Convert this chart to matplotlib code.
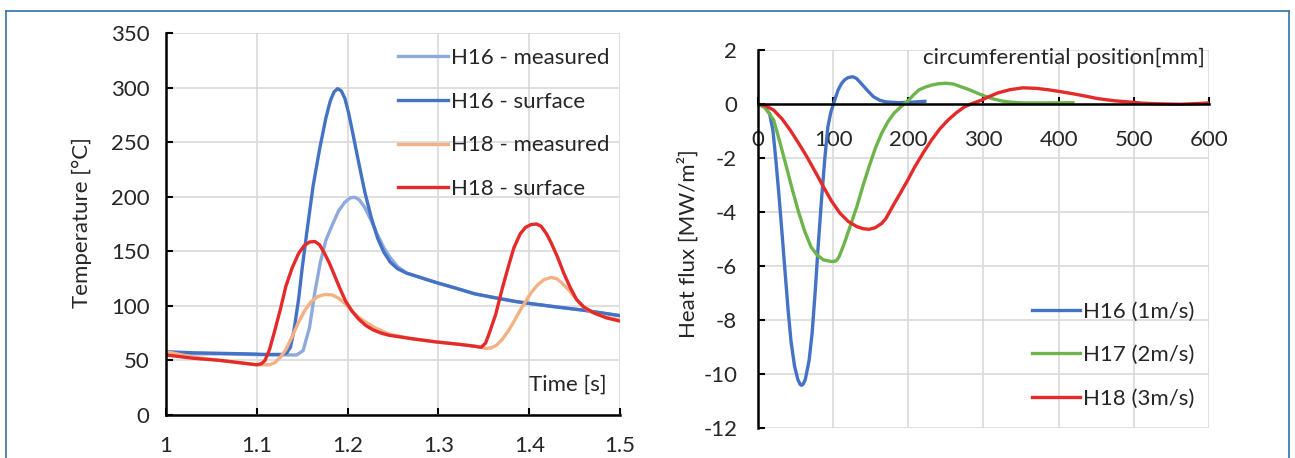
import matplotlib
matplotlib.use("Agg")
import matplotlib.pyplot as plt
from matplotlib.lines import Line2D
from matplotlib.ticker import FuncFormatter

plt.rcParams['font.family'] = ['Lato', 'DejaVu Sans']
plt.rcParams['axes.unicode_minus'] = False

# ---------------------------------------------------------------- left: temperature vs time
t_h16_surf = [1.0, 1.03, 1.06, 1.09, 1.11, 1.128, 1.133, 1.137, 1.141, 1.146, 1.15, 1.155, 1.162,
              1.169, 1.176, 1.181, 1.185, 1.189, 1.193, 1.197, 1.201, 1.205, 1.212, 1.219, 1.226,
              1.233, 1.24, 1.247, 1.255, 1.265, 1.28, 1.299, 1.32, 1.34, 1.365, 1.385, 1.402,
              1.43, 1.46, 1.5]
T_h16_surf = [58, 57, 56.5, 56, 55.5, 55.5, 57, 62, 78, 106, 135, 167, 210,
              243, 272, 288, 296, 299, 297, 290, 277, 261, 232, 204, 181,
              162, 149, 140, 134, 130, 126, 121, 116, 111, 107, 104, 102,
              99, 96, 91]

t_h16_meas = [1.0, 1.03, 1.06, 1.09, 1.12, 1.144, 1.151, 1.158, 1.164, 1.17, 1.176, 1.183, 1.19,
              1.197, 1.203, 1.208, 1.213, 1.219, 1.226, 1.233, 1.24, 1.247, 1.255, 1.265, 1.28,
              1.299, 1.32, 1.34, 1.365, 1.385, 1.402, 1.43, 1.46, 1.5]
T_h16_meas = [57, 56, 56, 55.5, 55, 55, 59, 80, 113, 140, 160, 174, 187,
              195, 199, 199.5, 197, 190, 178, 165, 153, 144, 136, 130, 126,
              121, 116, 111, 107, 104, 102, 99, 96, 91]

t_h18_surf = [1.0, 1.03, 1.06, 1.09, 1.1, 1.105, 1.109, 1.114, 1.119, 1.126, 1.132, 1.139, 1.146,
              1.152, 1.158, 1.164, 1.169, 1.174, 1.18, 1.186, 1.192, 1.198, 1.205, 1.212, 1.22,
              1.228, 1.237, 1.246, 1.27, 1.297, 1.32, 1.34, 1.347, 1.352, 1.356, 1.363, 1.37,
              1.377, 1.383, 1.39, 1.396, 1.402, 1.408, 1.413, 1.419, 1.424, 1.431, 1.438, 1.445,
              1.452, 1.46, 1.47, 1.485, 1.5]
T_h18_surf = [55, 52, 50, 47, 46, 47, 50, 60, 75, 97, 118, 135, 148,
              155, 158.5, 159, 156, 149, 139, 127, 115, 104, 95, 88, 82,
              78, 75, 73, 70, 67, 65, 63, 62, 66, 75, 92, 115,
              136, 153, 166, 172, 174.5, 175, 173, 166, 158, 145, 130, 117,
              106, 99, 94, 89, 86]

t_h18_meas = [1.0, 1.03, 1.06, 1.09, 1.1, 1.114, 1.12, 1.126, 1.132, 1.139, 1.146, 1.153, 1.16,
              1.167, 1.175, 1.183, 1.19, 1.196, 1.203, 1.21, 1.22, 1.23, 1.246, 1.27, 1.297,
              1.32, 1.34, 1.347, 1.352, 1.358, 1.364, 1.37, 1.377, 1.384, 1.39, 1.396, 1.402,
              1.409, 1.416, 1.424, 1.43, 1.436, 1.443, 1.45, 1.457, 1.465, 1.475, 1.488, 1.5]
T_h18_meas = [58, 53, 50, 47, 46, 46, 48, 53, 60, 72, 85, 96, 104,
              108.5, 110.5, 110, 107, 103, 97, 91, 85, 80, 74, 70, 67,
              65, 63, 62, 61, 61.5, 64, 69, 77, 87, 96, 104, 112,
              119, 124, 126, 125, 121, 115, 108, 101, 96, 92, 89, 87]

# ---------------------------------------------------------------- right: heat flux vs position
x_h16 = [0, 8, 15.5, 20, 23.8, 28, 32, 36, 40, 44, 48.6, 53, 56, 58, 60, 63, 68, 72, 76, 80,
         84.5, 89, 93, 97, 101, 106.6, 111, 115, 120, 126, 131, 137, 145, 153.6, 162, 170,
         187, 205, 222]
q_h16 = [0, -0.08, -0.36, -1.0, -2.07, -3.4, -4.78, -6.2, -7.6, -8.8, -9.7, -10.2, -10.38,
         -10.42, -10.38, -10.2, -9.5, -8.5, -7.0, -5.3, -3.55, -2.0, -0.84, -0.3, 0.05, 0.52,
         0.75, 0.89, 0.98, 1.01, 0.95, 0.77, 0.52, 0.27, 0.14, 0.08, 0.05, 0.07, 0.1]

x_h17 = [0, 10, 21, 29, 37.6, 46, 54, 62, 70.7, 79, 87, 95, 98, 102, 105, 108, 115, 123, 131.5,
         140, 148, 156, 164.6, 173, 181, 191, 200.6, 207, 214, 222, 231, 240, 250, 260, 270,
         281, 292, 303, 314, 325, 336, 352, 380, 419]
q_h17 = [0, -0.15, -0.6, -1.4, -2.3, -3.2, -4.0, -4.7, -5.3, -5.6, -5.77, -5.82, -5.83, -5.83,
         -5.78, -5.65, -5.15, -4.5, -3.8, -3.0, -2.3, -1.65, -1.08, -0.65, -0.34, -0.08, 0.15,
         0.34, 0.52, 0.62, 0.7, 0.75, 0.77, 0.74, 0.64, 0.53, 0.4, 0.28, 0.18, 0.11, 0.07,
         0.04, 0.04, 0.05]

x_h18 = [0, 10, 21, 32, 43, 54, 65, 76, 87, 98, 109, 120, 131.5, 140, 148, 156, 164.6, 170, 175,
         180, 186.7, 198, 208.8, 220, 231, 242, 253, 264, 275, 286, 297, 308, 319, 335, 352.5,
         370, 385.6, 402, 419, 436, 452, 474, 496, 512, 529, 545, 562, 580, 600]
q_h18 = [0, -0.06, -0.23, -0.55, -0.97, -1.45, -1.95, -2.5, -3.06, -3.6, -4.04, -4.35, -4.54,
         -4.62, -4.64, -4.58, -4.42, -4.25, -4.0, -3.75, -3.43, -2.88, -2.32, -1.8, -1.33,
         -0.92, -0.59, -0.32, -0.1, 0.03, 0.14, 0.28, 0.41, 0.53, 0.6, 0.58, 0.53, 0.46, 0.38,
         0.29, 0.2, 0.12, 0.07, 0.03, 0.01, 0.0, -0.01, 0.01, 0.04]

BLUE = '#4472C4'
LBLUE = '#8EA9DB'
ORANGE = '#F4B183'
RED = '#E52A2A'
GREEN = '#6DB54B'
GRID = '#D9D9D9'
TXT = '#262626'
FS = 16
LW = 2.4

fig = plt.figure(figsize=(12.95, 4.58), dpi=100)

# ------------------------------------------------------------------------ left panel
ax1 = fig.add_axes([0.1282, 0.0939, 0.3506, 0.834])
ax1.plot(t_h16_meas, T_h16_meas, color=LBLUE, lw=LW, label='H16 - measured', solid_joinstyle='round')
ax1.plot(t_h16_surf, T_h16_surf, color=BLUE, lw=LW, label='H16 - surface', solid_joinstyle='round')
ax1.plot(t_h18_meas, T_h18_meas, color=ORANGE, lw=LW, label='H18 - measured', solid_joinstyle='round')
ax1.plot(t_h18_surf, T_h18_surf, color=RED, lw=LW, label='H18 - surface', solid_joinstyle='round')
ax1.set_xlim(1, 1.5)
ax1.set_ylim(0, 350)
ax1.set_xticks([1, 1.1, 1.2, 1.3, 1.4, 1.5])
ax1.set_yticks(range(0, 351, 50))
ax1.xaxis.set_major_formatter(FuncFormatter(lambda v, p: '%g' % v))
ax1.tick_params(axis='x', direction='in', length=5, width=1.5, pad=15, labelsize=FS, labelcolor=TXT)
ax1.tick_params(axis='y', direction='in', length=5, width=1.5, pad=12, labelsize=FS, labelcolor=TXT)
ax1.grid(True, color=GRID, lw=1.2)
ax1.set_axisbelow(True)
for s in ['top', 'right']:
    ax1.spines[s].set_visible(False)
for s in ['left', 'bottom']:
    ax1.spines[s].set_linewidth(1.8)
ax1.text(-0.185, 0.503, 'Temperature [°C]', transform=ax1.transAxes, rotation=90,
         ha='center', va='center', fontsize=FS, color=TXT)
ax1.text(0.97, 0.08, 'Time [s]', transform=ax1.transAxes, ha='right', va='center',
         fontsize=FS, color=TXT)
ax1.legend(loc='upper left', bbox_to_anchor=(0.511, 0.961), frameon=False, fontsize=FS,
           borderaxespad=0, borderpad=0, handlelength=2.25, handletextpad=0.15,
           labelspacing=1.07, labelcolor=TXT)

# ------------------------------------------------------------------------ right panel
ax2 = fig.add_axes([0.5853, 0.0655, 0.3483, 0.8253])
ax2.plot(x_h16, q_h16, color=BLUE, lw=LW, label='H16 (1m/s)', solid_joinstyle='round')
ax2.plot(x_h17, q_h17, color=GREEN, lw=LW, label='H17 (2m/s)', solid_joinstyle='round')
ax2.plot(x_h18, q_h18, color=RED, lw=LW, label='H18 (3m/s)', solid_joinstyle='round')
ax2.set_xlim(0, 600)
ax2.set_ylim(-12, 2)
ax2.set_xticks(range(0, 601, 100))
ax2.set_yticks(range(-12, 3, 2))
ax2.spines['bottom'].set_position(('data', 0))
ax2.tick_params(axis='x', direction='in', length=5, width=1.5, pad=19, labelsize=FS, labelcolor=TXT)
ax2.tick_params(axis='y', direction='in', length=5, width=1.5, pad=15, labelsize=FS, labelcolor=TXT)
ax2.grid(True, color=GRID, lw=1.2)
ax2.set_axisbelow(True)
for s in ['top', 'right']:
    ax2.spines[s].set_visible(False)
for s in ['left', 'bottom']:
    ax2.spines[s].set_linewidth(1.8)
ax2.text(-0.155, 0.487, 'Heat flux [MW/m²]', transform=ax2.transAxes, rotation=90,
         ha='center', va='center', fontsize=FS, color=TXT)
ax2.text(0.99, 0.979, 'circumferential position[mm]', transform=ax2.transAxes,
         ha='right', va='center', fontsize=FS, color=TXT)
ax2.legend(loc='upper left', bbox_to_anchor=(0.607, 0.335), frameon=False, fontsize=FS,
           borderaxespad=0, borderpad=0, handlelength=2.15, handletextpad=0.15,
           labelspacing=1.07, labelcolor=TXT)

# ------------------------------------------------------------------------ blue frame
BORDER = '#3E7CB1'
y_top = 1 - 11 / 458
x_l = 6 / 1295
x_r = 1289 / 1295
fig.add_artist(Line2D([x_l, x_r], [y_top, y_top], color=BORDER, lw=1.3, transform=fig.transFigure))
fig.add_artist(Line2D([x_l, x_l], [0, y_top], color=BORDER, lw=1.3, transform=fig.transFigure))
fig.add_artist(Line2D([x_r, x_r], [0, y_top], color=BORDER, lw=1.3, transform=fig.transFigure))

fig.savefig('out.png', dpi=100)
